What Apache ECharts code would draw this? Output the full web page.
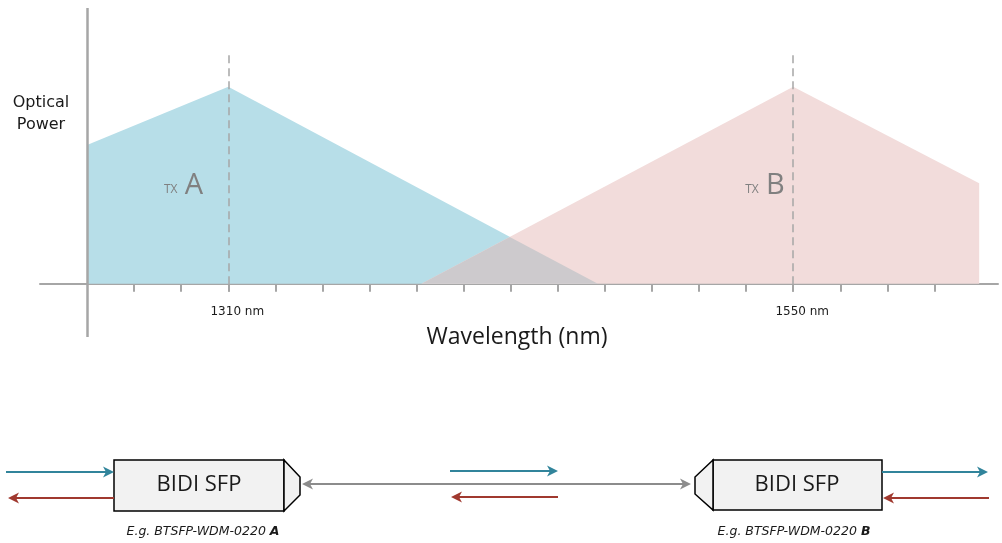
<!DOCTYPE html>
<html>
<head>
<meta charset="utf-8">
<script src="https://cdn.jsdelivr.net/npm/echarts@6/dist/echarts.min.js"></script>
<style>
  html, body { margin: 0; padding: 0; background: #fff; }
  #chart { width: 1002px; height: 543px; }
</style>
</head>
<body>
<div id="chart"></div>
<script>
// spectrum points: [wavelength nm, relative optical power]
const txA = [[1250, 70.5], [1310, 100], [1467, 0]];
const txB = [[1392, 0], [1550, 100], [1629, 51], [1629, 0]];
const overlap = [[1392, 0], [1429.6, 23.8], [1467, 0]];
const tickValues = [1270, 1290, 1310, 1330, 1350, 1370, 1390, 1410, 1430, 1450, 1470, 1490, 1510, 1530, 1550, 1570, 1590, 1610];
const labelValues = [1310, 1550];
const centerLines = [1310, 1550];
const txLabels = [['A', 1291, 50], ['B', 1538, 50]];

const FONT = '"Open Sans", "DejaVu Sans", sans-serif';
const SMALL = '"DejaVu Sans", sans-serif';
const GREY = '#a6a6a6';
const TEAL = '#31849b';
const RED = '#a0392f';

function arrowHead(x, y, dir, color) {
  return {
    type: 'polygon',
    shape: { points: [[x, y], [x - dir * 11, y - 5.5], [x - dir * 8, y], [x - dir * 11, y + 5.5]] },
    style: { fill: color }
  };
}
function arrow(x1, x2, y, color, both, width) {
  const dir = x2 > x1 ? 1 : -1;
  const els = [
    { type: 'line', shape: { x1: both ? x1 + dir * 8 : x1, y1: y, x2: x2 - dir * 8, y2: y },
      style: { stroke: color, lineWidth: width || 1.8 } },
    arrowHead(x2, y, dir, color)
  ];
  if (both) els.push(arrowHead(x1, y, -dir, color));
  return els;
}
function label(text, x, y, size, family, extra) {
  return {
    type: 'text', x: x, y: y,
    style: Object.assign({
      text: text, fill: '#1a1a1a', fontSize: size, fontFamily: family,
      textAlign: 'center', align: 'center', textVerticalAlign: 'middle', verticalAlign: 'middle'
    }, extra || {})
  };
}
const subRich = {
  n: { fontStyle: 'italic', fontSize: 12.5, fontFamily: SMALL, color: '#1a1a1a' },
  b: { fontStyle: 'italic', fontWeight: 'bold', fontSize: 12.5, fontFamily: SMALL, color: '#1a1a1a' }
};

let graphics = [
  label('Optical\nPower', 41, 114, 16, SMALL, { lineHeight: 22 }),
  // module A
  { type: 'rect', shape: { x: 114, y: 460, width: 170, height: 51 }, style: { fill: '#f2f2f2', stroke: '#000', lineWidth: 1.5 } },
  { type: 'polygon', shape: { points: [[284, 460], [300, 477], [300, 495], [284, 511]] }, style: { fill: '#f2f2f2', stroke: '#000', lineWidth: 1.5 } },
  label('BIDI SFP', 199, 485, 22, FONT),
  label('{n|E.g. BTSFP-WDM-0220 }{b|A}', 203, 532, 12.5, SMALL, { rich: subRich }),
  // module B
  { type: 'rect', shape: { x: 713, y: 460, width: 169, height: 50 }, style: { fill: '#f2f2f2', stroke: '#000', lineWidth: 1.5 } },
  { type: 'polygon', shape: { points: [[713, 460], [695, 477], [695, 494], [713, 510]] }, style: { fill: '#f2f2f2', stroke: '#000', lineWidth: 1.5 } },
  label('BIDI SFP', 797, 485, 22, FONT),
  label('{n|E.g. BTSFP-WDM-0220 }{b|B}', 794, 532, 12.5, SMALL, { rich: subRich })
];
graphics = graphics
  .concat(arrow(6, 114, 472, TEAL))
  .concat(arrow(114, 8, 498, RED))
  .concat(arrow(302, 691, 484, '#8c8c8c', true, 2))
  .concat(arrow(450, 558, 471, TEAL))
  .concat(arrow(558, 451, 497, RED))
  .concat(arrow(882, 988, 472, TEAL))
  .concat(arrow(989, 883, 498, RED));

const chart = echarts.init(document.getElementById('chart'));
chart.setOption({
  animation: false,
  backgroundColor: '#fff',
  grid: { left: 40, right: 4, top: 8, bottom: 206 },
  xAxis: {
    type: 'value',
    min: 1230,
    max: 1637,
    name: 'Wavelength (nm)',
    nameLocation: 'middle',
    nameGap: -11,
    nameTextStyle: { fontSize: 23, fontFamily: FONT, color: '#1a1a1a', padding: [0, 4, 0, 0] },
    splitLine: { show: false },
    axisLine: { onZero: true, lineStyle: { color: GREY, width: 2 } },
    axisTick: { show: true, customValues: tickValues, length: 8, lineStyle: { color: GREY, width: 2 } },
    axisLabel: {
      customValues: labelValues,
      formatter: v => v + ' nm',
      margin: -31,
      padding: [0, 0, 0, 18],
      fontSize: 12,
      fontFamily: SMALL,
      color: '#1a1a1a'
    }
  },
  yAxis: { type: 'value', min: -27, max: 140, show: false, splitLine: { show: false } },
  graphic: graphics,
  series: [
    {
      name: 'TX A', type: 'line', data: txA, symbol: 'none',
      lineStyle: { width: 0 }, areaStyle: { color: '#b7dee8', opacity: 1 },
      markPoint: {
        symbol: 'rect', symbolSize: 1, itemStyle: { color: 'transparent' },
        label: {
          show: true, position: 'inside',
          formatter: p => '{s|TX} {l|' + p.name + '}',
          rich: {
            s: { fontSize: 12, fontFamily: FONT, color: '#808080', verticalAlign: 'bottom', padding: [0, 4, 4, 0] },
            l: { fontSize: 29, fontFamily: FONT, color: '#808080', verticalAlign: 'bottom' }
          }
        },
        data: txLabels.map(t => ({ name: t[0], coord: [t[1], t[2]] }))
      }
    },
    {
      name: 'TX B', type: 'line', data: txB, symbol: 'none',
      lineStyle: { width: 0 }, areaStyle: { color: '#f2dcdb', opacity: 1 }
    },
    {
      name: 'overlap', type: 'line', data: overlap, symbol: 'none',
      lineStyle: { width: 0 }, areaStyle: { color: '#cdcacd', opacity: 1 },
      markLine: {
        silent: true, symbol: 'none', label: { show: false },
        lineStyle: { color: GREY, width: 1.5, type: [8, 5] },
        data: centerLines.map(v => [{ coord: [v, 116] }, { coord: [v, -4] }])
          .concat([[{ coord: [1250, 140], lineStyle: { type: 'solid', width: 2.5 } }, { coord: [1250, -27] }]])
      }
    }
  ]
});
</script>
</body>
</html>
